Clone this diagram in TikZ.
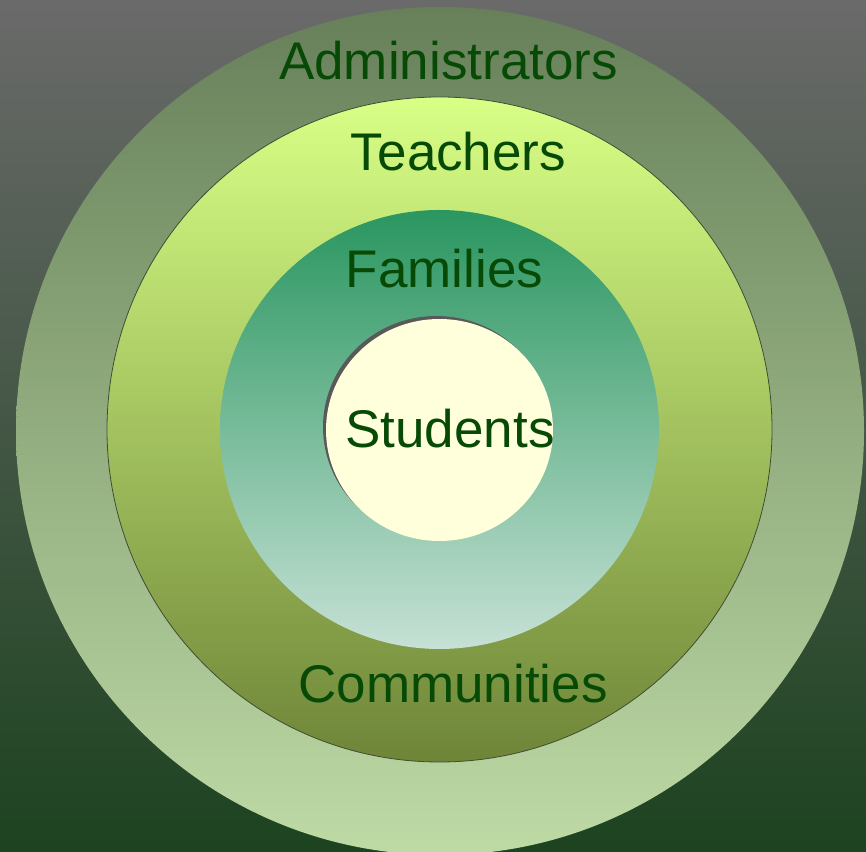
\documentclass[tikz,border=0pt]{standalone}
\usepackage{fontspec}
\setmainfont{Liberation Sans}
\definecolor{txt}{HTML}{064A06}
\definecolor{bgtop}{HTML}{6A6A6A}
\definecolor{bgbot}{HTML}{1D4320}
\definecolor{admtop}{HTML}{67805A}
\definecolor{admmid}{HTML}{7A966A}
\definecolor{admbot}{HTML}{BEDAA5}
\definecolor{teatop}{HTML}{D8FF86}
\definecolor{teamid}{HTML}{B8DC6A}
\definecolor{teabot}{HTML}{6E8538}
\definecolor{famtop}{HTML}{2A9660}
\definecolor{fammid}{HTML}{8CBEA2}
\definecolor{fambot}{HTML}{C6E1D5}
\definecolor{stufill}{HTML}{FFFFDC}
\definecolor{ringline}{HTML}{3E4E34}
\tikzset{
  ring/.style={circle, inner sep=0pt, outer sep=0pt},
  lbl/.style={text=txt, font=\fontsize{53}{60}\selectfont, inner sep=0pt, anchor=base}
}
\begin{document}
\begin{tikzpicture}[x=1pt,y=1pt]
\useasboundingbox (0,0) rectangle (866,851);
\clip (0,0) rectangle (866,851);
\shade[top color=bgtop, bottom color=bgbot] (0,0) rectangle (866,851);
% outer ring
\node[ring, minimum size=848pt, top color=admtop, middle color=admmid, bottom color=admbot] (admin) at (440,420) {};
% teachers ring
\node[ring, minimum size=665pt, top color=teatop, middle color=teamid, bottom color=teabot, draw=ringline, line width=0.8pt] (teach) at (439.5,421.5) {};
% families ring
\node[ring, minimum size=439pt, top color=famtop, middle color=fammid, bottom color=fambot] (fam) at (439.5,421.5) {};
% students
\fill[black!65] (436.5,424) ellipse [x radius=113.5pt, y radius=111pt];
\fill[stufill] (439.5,421) ellipse [x radius=113.5pt, y radius=111pt];
\coordinate (stu) at (439.5,421);
% labels
\node[lbl] (tadmin) at (448.5,771) {Administrators};
\node[lbl] (tteach) at (458.5,680) {Teachers};
\node[lbl] (tfam) at (444.5,563) {Families};
\node[lbl] (tstu) at (450,403) {Students};
\node[lbl] (tcom) at (453,149) {Communities};
\end{tikzpicture}
\end{document}
